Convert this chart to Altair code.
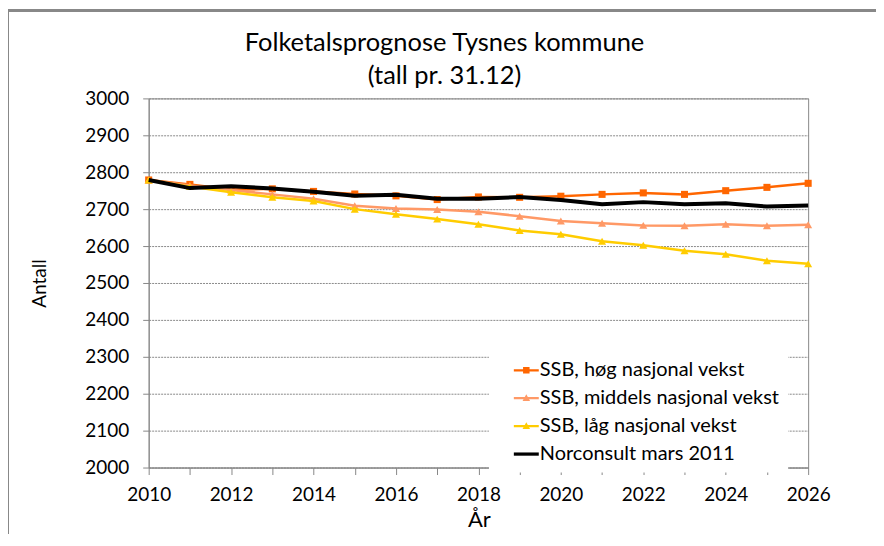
import altair as alt
import pandas as pd

years = list(range(2010, 2027))
series_names = [
    "SSB, høg nasjonal vekst",
    "SSB, middels nasjonal vekst",
    "SSB, låg nasjonal vekst",
    "Norconsult mars 2011",
]
hoeg = [2779, 2767, 2753, 2755, 2748, 2741, 2736, 2726, 2733, 2732, 2735, 2740, 2744, 2740, 2750, 2759, 2770]
middels = [2779, 2764, 2752, 2740, 2728, 2709, 2702, 2699, 2693, 2681, 2668, 2662, 2656, 2655, 2659, 2655, 2658]
laag = [2779, 2761, 2746, 2732, 2722, 2700, 2686, 2673, 2659, 2642, 2632, 2613, 2602, 2587, 2578, 2560, 2552]
norconsult = [2779, 2757, 2762, 2756, 2747, 2736, 2739, 2728, 2728, 2733, 2725, 2713, 2719, 2713, 2716, 2707, 2710]
colors = ["#FF6600", "#FF9966", "#FFCC00", "#000000"]
y_ticks = list(range(2000, 3001, 100))

rows = []
for name, vals in zip(series_names, [hoeg, middels, laag, norconsult]):
    for yr, v in zip(years, vals):
        rows.append({"year": yr, "value": v, "series": name})
df = pd.DataFrame(rows)

FONT = "Lato"
xenc = alt.X("year:Q", scale=alt.Scale(domain=[2010, 2026], nice=False),
             axis=alt.Axis(values=years, format="d", grid=False, title="År",
                           labelExpr="datum.value % 2 == 0 ? datum.label : ''",
                           labelFlush=False,
                           labelFontSize=19, labelPadding=11, labelFont=FONT, labelColor="#000",
                           tickSize=7, tickColor="#888", domainColor="#888",
                           titleFontSize=22, titleFont=FONT, titleFontWeight="normal",
                           titleX=331, titleY=52, titleBaseline="middle", titleAlign="center"))
yenc = alt.Y("value:Q", scale=alt.Scale(domain=[2000, 3000], nice=False),
             axis=alt.Axis(values=y_ticks, format="d", title="Antall",
                           labelFontSize=19, labelPadding=14, labelFont=FONT, labelColor="#000",
                           tickSize=6, tickColor="#888", domainColor="#888",
                           gridColor="#8a8a8a", gridDash=[2, 1], gridWidth=1,
                           titleFontSize=19, titleFont=FONT, titleFontWeight="normal",
                           titleX=-109, titleY=185, titleAngle=-90,
                           titleBaseline="middle", titleAlign="center"))

base = alt.Chart(df)

# outer chart-area border (top and left edges visible in the reference)
frame_top = alt.Chart(df).mark_rule(stroke="#888", strokeWidth=1.5, clip=False).encode(
    x=alt.value(-141), x2=alt.value(800), y=alt.value(-88)
)
frame_left = alt.Chart(df).mark_rule(stroke="#888", strokeWidth=1.5, clip=False).encode(
    x=alt.value(-141), y=alt.value(-88), y2=alt.value(470)
)

widths = [2.5, 2.5, 2.5, 4]
layers = [frame_top, frame_left]
for i in [0, 1, 2]:
    name = series_names[i]
    layers.append(
        base.transform_filter(alt.datum.series == name)
        .mark_line(color=colors[i], strokeWidth=widths[i])
        .encode(x=xenc, y=yenc)
    )
    shape = "square" if i == 0 else "triangle-up"
    size = 50 if i == 0 else 65
    layers.append(
        base.transform_filter(alt.datum.series == name)
        .mark_point(shape=shape, filled=True, color=colors[i], size=size, opacity=1)
        .encode(x=xenc, y=yenc)
    )
layers.append(
    base.transform_filter(alt.datum.series == series_names[3])
    .mark_line(color=colors[3], strokeWidth=widths[3])
    .encode(x=xenc, y=yenc)
)

legend_paths = [
    "M-1,-0.09H1V0.09H-1Z M-0.26,-0.26H0.26V0.26H-0.26Z",
    "M-1,-0.09H1V0.09H-1Z M0,-0.32L0.3,0.22H-0.3Z",
    "M-1,-0.09H1V0.09H-1Z M0,-0.32L0.3,0.22H-0.3Z",
    "M-1,-0.13H1V0.13H-1Z",
]
legend_layer = (
    base.transform_filter("datum.value < 0")
    .mark_point(filled=True, size=625, opacity=1)
    .encode(
        x=xenc, y=yenc,
        color=alt.Color("series:N", scale=alt.Scale(domain=series_names, range=colors),
                        legend=alt.Legend(title=None)),
        shape=alt.Shape("series:N", scale=alt.Scale(domain=series_names, range=legend_paths),
                        legend=alt.Legend(title=None)),
    )
)
layers.append(legend_layer)

chart = alt.layer(*layers).properties(
    width=661, height=370,
    title=alt.TitleParams(
        text=["Folketalsprognose Tysnes kommune", "(tall pr. 31.12)"],
        fontSize=25.5, font=FONT, fontWeight="normal", color="#000",
        anchor="middle", frame="group", dx=-34, offset=-80, lineHeight=33,
    ),
    autosize=alt.AutoSizeParams(type="none"),
    padding={"left": 141, "top": 90, "right": 68, "bottom": 66},
).configure_view(
    stroke="#888", strokeWidth=1
).configure_legend(
    orient="none", legendX=341, legendY=252, padding=8, fillColor="white",
    symbolOffset=17, symbolSize=625, symbolStrokeWidth=0, rowPadding=5,
    labelFontSize=20, labelFont=FONT, labelColor="#000", labelOffset=1,
    labelLimit=400,
)

chart.save("out.html", embed_options={"renderer": "svg", "actions": False})
